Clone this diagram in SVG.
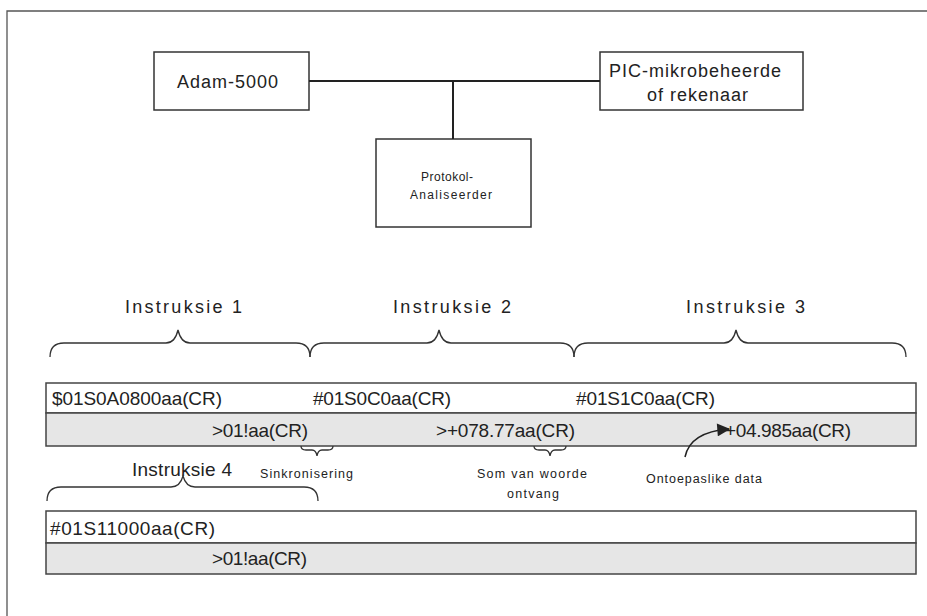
<svg xmlns="http://www.w3.org/2000/svg" width="927" height="616" viewBox="0 0 927 616">
  <style>
    .frame { fill: none; stroke: #555; stroke-width: 1.3; }
    .box { fill: #fff; stroke: #333; stroke-width: 1.5; }
    .wire { fill: none; stroke: #222; stroke-width: 2; }
    .pointer { fill: none; stroke: #222; stroke-width: 1.5; }
    .brace { fill: none; stroke: #333; stroke-width: 1.3; }
    .row1 { fill: #fff; stroke: #444; stroke-width: 1.5; }
    .row2 { fill: #e6e6e6; stroke: #444; stroke-width: 1.5; }
    text { font-family: "Liberation Sans", Arial, sans-serif; fill: #222; }
    .big { font-size: 18px; }
    .small { font-size: 12px; }
    .head { font-size: 18px; }
    .code { font-size: 19px; }
    .note { font-size: 12.5px; }
  </style>
  <defs>
    <marker id="arrow" viewBox="0 0 10 10" refX="9" refY="5" markerWidth="16" markerHeight="13" orient="auto" markerUnits="userSpaceOnUse">
      <path d="M0,0 L10,5 L0,10 z" fill="#222"/>
    </marker>
  </defs>

  <rect width="927" height="616" fill="#fff"/>

  <!-- page frame -->
  <path class="frame" d="M7,616 L7,11 L927,11"/>

  <!-- devices -->
  <g id="adam">
    <rect class="box" x="154" y="52" width="155" height="58"/>
    <text class="big" x="177" y="88" textLength="101">Adam-5000</text>
  </g>
  <g id="pic">
    <rect class="box" x="600" y="52" width="203" height="58"/>
    <text class="big" x="609" y="77" textLength="172">PIC-mikrobeheerde</text>
    <text class="big" x="647" y="101" textLength="101">of rekenaar</text>
  </g>
  <g id="analyser">
    <rect class="box" x="376" y="139" width="155" height="88"/>
    <text class="small" x="421" y="181" textLength="52">Protokol-</text>
    <text class="small" x="410" y="199" textLength="82">Analiseerder</text>
  </g>

  <!-- instruction headings -->
  <g id="headings">
    <text class="head" x="125" y="313" textLength="117">Instruksie 1</text>
    <text class="head" x="393" y="313" textLength="118">Instruksie 2</text>
    <text class="head" x="686" y="313" textLength="119">Instruksie 3</text>
    <text class="code" x="132" y="476" textLength="100">Instruksie 4</text>
  </g>

  <!-- traffic table 1 -->
  <g id="table1">
    <rect class="row1" x="46" y="383" width="870" height="30"/>
    <rect class="row2" x="46" y="413" width="870" height="33"/>
    <text class="code" x="52" y="405" textLength="170">$01S0A0800aa(CR)</text>
    <text class="code" x="313" y="405" textLength="138">#01S0C0aa(CR)</text>
    <text class="code" x="576" y="405" textLength="139">#01S1C0aa(CR)</text>
    <text class="code" x="212" y="437" textLength="96">&gt;01!aa(CR)</text>
    <text class="code" x="436" y="437" textLength="139">&gt;+078.77aa(CR)</text>
    <text class="code" x="725" y="437" textLength="126">+04.985aa(CR)</text>
  </g>

  <!-- annotations -->
  <g id="notes">
    <text class="note" x="260" y="478" textLength="93">Sinkronisering</text>
    <text class="note" x="477" y="478" textLength="110">Som van woorde</text>
    <text class="note" x="507" y="498" textLength="52">ontvang</text>
    <text class="note" x="646" y="483" textLength="116">Ontoepaslike data</text>
  </g>

  <!-- traffic table 2 -->
  <g id="table2">
    <rect class="row1" x="46" y="511" width="870" height="32"/>
    <rect class="row2" x="46" y="543" width="870" height="31"/>
    <text class="code" x="50" y="535" textLength="165">#01S11000aa(CR)</text>
    <text class="code" x="212" y="565" textLength="95">&gt;01!aa(CR)</text>
  </g>

  <!-- connectors: bus wiring, grouping braces and pointer -->
  <g id="connectors">
    <path class="wire" d="M309,81 L600,81"/>
    <path class="wire" d="M453,81 L453,139"/>
    <path class="brace" d="M50,357 Q50,343 64,343 L166,343 Q175,343 178,330 Q181,343 190,343 L296,343 Q310,343 310,357"/>
    <path class="brace" d="M310,357 Q310,343 324,343 L427,343 Q436,343 439,330 Q442,343 451,343 L560,343 Q574,343 574,357"/>
    <path class="brace" d="M574,357 Q574,343 588,343 L724,343 Q733,343 736,330 Q739,343 748,343 L892,343 Q906,343 906,357"/>
    <path class="brace" d="M47,501 Q47,487 61,487 L171,487 Q180,487 183,476 Q186,487 195,487 L304,487 Q318,487 318,501"/>
    <path class="brace" d="M301,446 Q301,450 306,450 L312,450 Q316,450 317,456 Q318,450 322,450 L328,450 Q333,450 333,446"/>
    <path class="brace" d="M534,446 Q534,450 539,450 L545,450 Q549,450 550,456 Q551,450 555,450 L561,450 Q566,450 566,446"/>
    <path class="pointer" d="M685,457 Q690,432 729,429" marker-end="url(#arrow)"/>
  </g>
</svg>
